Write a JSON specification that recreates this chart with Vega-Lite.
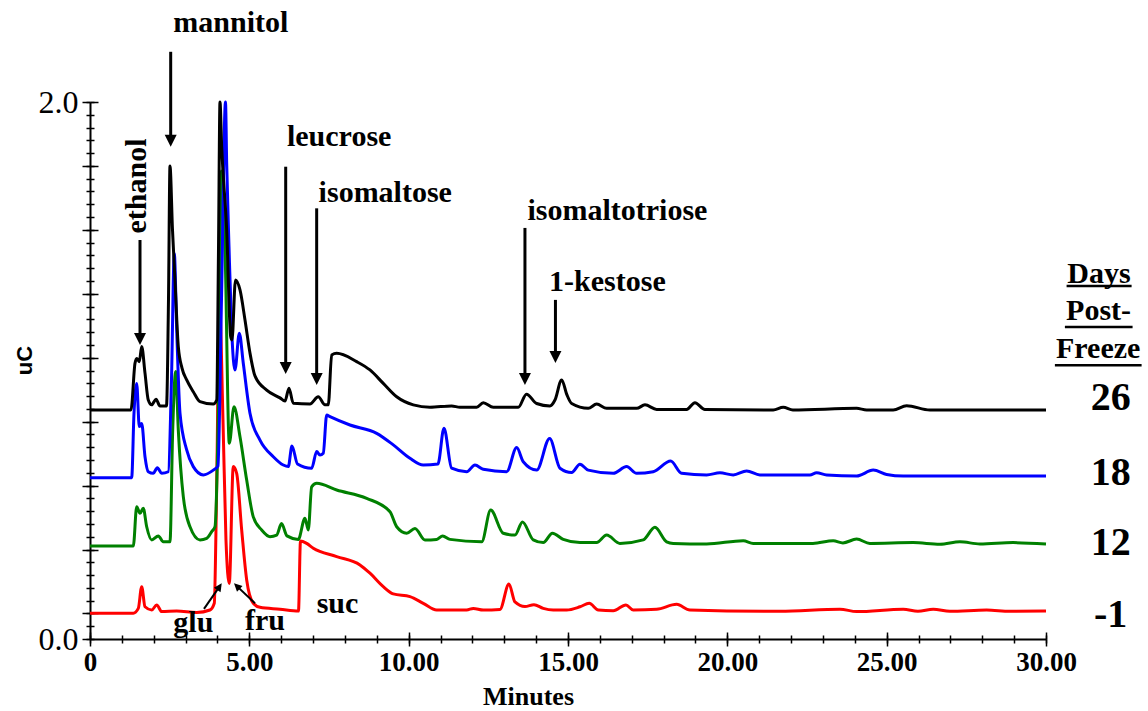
{
  "$schema": "https://vega.github.io/schema/vega-lite/v6.json",
  "width": 956,
  "height": 537,
  "autosize": {"type": "none"},
  "padding": {"left": 90, "top": 102, "right": 102, "bottom": 72},
  "background": "white",
  "config": {
    "view": {"stroke": null},
    "axis": {"grid": false, "domainColor": "#000000", "tickColor": "#000000", "labelColor": "#000000", "titleColor": "#000000", "tickWidth": 1.5, "domainWidth": 2}
  },
  "resolve": {"axis": {"x": "independent", "y": "independent"}},
  "datasets": {
    "chrom": [
      {"day":"26","t":0,"v":0.853},{"day":"26","t":1.286,"v":0.853},{"day":"26","t":1.412,"v":1.027},{"day":"26","t":1.465,"v":1.045},{"day":"26","t":1.547,"v":1.033},{"day":"26","t":1.622,"v":1.089},{"day":"26","t":1.726,"v":0.990},{"day":"26","t":1.829,"v":0.890},{"day":"26","t":1.936,"v":0.872},{"day":"26","t":2.071,"v":0.893},{"day":"26","t":2.196,"v":0.868},{"day":"26","t":2.400,"v":0.868},{"day":"26","t":2.463,"v":1.263},{"day":"26","t":2.510,"v":1.762},{"day":"26","t":2.589,"v":1.523},{"day":"26","t":2.667,"v":1.337},{"day":"26","t":2.771,"v":1.089},{"day":"26","t":2.887,"v":1.009},{"day":"26","t":3.034,"v":0.965},{"day":"26","t":3.241,"v":0.921},{"day":"26","t":3.452,"v":0.884},{"day":"26","t":3.869,"v":0.875},{"day":"26","t":3.976,"v":0.890},{"day":"26","t":4.032,"v":1.449},{"day":"26","t":4.079,"v":2.0},{"day":"26","t":4.132,"v":1.834},{"day":"26","t":4.289,"v":1.523},{"day":"26","t":4.415,"v":1.126},{"day":"26","t":4.456,"v":1.114},{"day":"26","t":4.565,"v":1.337},{"day":"26","t":4.707,"v":1.300},{"day":"26","t":4.864,"v":1.188},{"day":"26","t":5.020,"v":1.065},{"day":"26","t":5.177,"v":0.980},{"day":"26","t":5.544,"v":0.927},{"day":"26","t":5.962,"v":0.898},{"day":"26","t":6.119,"v":0.886},{"day":"26","t":6.244,"v":0.934},{"day":"26","t":6.379,"v":0.878},{"day":"26","t":6.903,"v":0.875},{"day":"26","t":7.163,"v":0.902},{"day":"26","t":7.374,"v":0.872},{"day":"26","t":7.477,"v":0.872},{"day":"26","t":7.584,"v":1.058},{"day":"26","t":7.741,"v":1.064},{"day":"26","t":8.368,"v":1.033},{"day":"26","t":8.786,"v":1.002},{"day":"26","t":9.203,"v":0.952},{"day":"26","t":9.624,"v":0.902},{"day":"26","t":10.144,"v":0.872},{"day":"26","t":10.668,"v":0.863},{"day":"26","t":11.349,"v":0.868},{"day":"26","t":11.610,"v":0.863},{"day":"26","t":12.134,"v":0.863},{"day":"26","t":12.341,"v":0.880},{"day":"26","t":12.655,"v":0.863},{"day":"26","t":13.439,"v":0.863},{"day":"26","t":13.696,"v":0.912},{"day":"26","t":14.016,"v":0.877},{"day":"26","t":14.434,"v":0.868},{"day":"26","t":14.591,"v":0.890},{"day":"26","t":14.801,"v":0.965},{"day":"26","t":14.967,"v":0.909},{"day":"26","t":15.115,"v":0.877},{"day":"26","t":15.635,"v":0.859},{"day":"26","t":15.899,"v":0.875},{"day":"26","t":16.213,"v":0.859},{"day":"26","t":17.154,"v":0.859},{"day":"26","t":17.415,"v":0.872},{"day":"26","t":17.782,"v":0.855},{"day":"26","t":18.723,"v":0.855},{"day":"26","t":18.983,"v":0.880},{"day":"26","t":19.297,"v":0.855},{"day":"26","t":21.440,"v":0.853},{"day":"26","t":21.754,"v":0.863},{"day":"26","t":22.058,"v":0.853},{"day":"26","t":24.057,"v":0.859},{"day":"26","t":24.371,"v":0.853},{"day":"26","t":25.205,"v":0.853},{"day":"26","t":25.626,"v":0.869},{"day":"26","t":26.357,"v":0.853},{"day":"26","t":30,"v":0.853},

      {"day":"18","t":0,"v":0.601},{"day":"18","t":1.308,"v":0.601},{"day":"18","t":1.381,"v":0.841},{"day":"18","t":1.465,"v":0.952},{"day":"18","t":1.547,"v":0.791},{"day":"18","t":1.622,"v":0.803},{"day":"18","t":1.726,"v":0.679},{"day":"18","t":1.829,"v":0.623},{"day":"18","t":1.986,"v":0.617},{"day":"18","t":2.112,"v":0.638},{"day":"18","t":2.250,"v":0.617},{"day":"18","t":2.457,"v":0.623},{"day":"18","t":2.557,"v":0.965},{"day":"18","t":2.645,"v":1.436},{"day":"18","t":2.721,"v":1.151},{"day":"18","t":2.824,"v":0.841},{"day":"18","t":3.034,"v":0.704},{"day":"18","t":3.241,"v":0.642},{"day":"18","t":3.555,"v":0.611},{"day":"18","t":3.869,"v":0.629},{"day":"18","t":4.016,"v":0.644},{"day":"18","t":4.126,"v":1.263},{"day":"18","t":4.252,"v":2.0},{"day":"18","t":4.289,"v":1.773},{"day":"18","t":4.362,"v":1.461},{"day":"18","t":4.446,"v":1.151},{"day":"18","t":4.550,"v":1.002},{"day":"18","t":4.685,"v":1.139},{"day":"18","t":4.810,"v":1.027},{"day":"18","t":5.020,"v":0.841},{"day":"18","t":5.334,"v":0.741},{"day":"18","t":5.752,"v":0.679},{"day":"18","t":6.065,"v":0.648},{"day":"18","t":6.222,"v":0.642},{"day":"18","t":6.338,"v":0.719},{"day":"18","t":6.511,"v":0.652},{"day":"18","t":6.956,"v":0.636},{"day":"18","t":7.113,"v":0.698},{"day":"18","t":7.217,"v":0.685},{"day":"18","t":7.320,"v":0.692},{"day":"18","t":7.427,"v":0.834},{"day":"18","t":7.531,"v":0.828},{"day":"18","t":8.158,"v":0.797},{"day":"18","t":8.996,"v":0.766},{"day":"18","t":9.517,"v":0.723},{"day":"18","t":10.041,"v":0.673},{"day":"18","t":10.458,"v":0.648},{"day":"18","t":10.919,"v":0.652},{"day":"18","t":11.108,"v":0.785},{"day":"18","t":11.349,"v":0.636},{"day":"18","t":11.820,"v":0.623},{"day":"18","t":12.080,"v":0.648},{"day":"18","t":12.341,"v":0.632},{"day":"18","t":13.075,"v":0.623},{"day":"18","t":13.389,"v":0.713},{"day":"18","t":13.596,"v":0.660},{"day":"18","t":14.016,"v":0.629},{"day":"18","t":14.424,"v":0.747},{"day":"18","t":14.748,"v":0.636},{"day":"18","t":15.115,"v":0.620},{"day":"18","t":15.375,"v":0.651},{"day":"18","t":15.635,"v":0.629},{"day":"18","t":16.420,"v":0.617},{"day":"18","t":16.840,"v":0.642},{"day":"18","t":17.154,"v":0.617},{"day":"18","t":17.675,"v":0.623},{"day":"18","t":18.221,"v":0.663},{"day":"18","t":18.566,"v":0.617},{"day":"18","t":19.350,"v":0.611},{"day":"18","t":19.768,"v":0.619},{"day":"18","t":20.185,"v":0.611},{"day":"18","t":20.606,"v":0.626},{"day":"18","t":21.023,"v":0.611},{"day":"18","t":22.592,"v":0.611},{"day":"18","t":22.802,"v":0.619},{"day":"18","t":23.116,"v":0.611},{"day":"18","t":24.057,"v":0.607},{"day":"18","t":24.578,"v":0.629},{"day":"18","t":24.998,"v":0.613},{"day":"18","t":25.519,"v":0.607},{"day":"18","t":30,"v":0.607},

      {"day":"12","t":0,"v":0.346},{"day":"12","t":1.359,"v":0.346},{"day":"12","t":1.465,"v":0.493},{"day":"12","t":1.569,"v":0.468},{"day":"12","t":1.672,"v":0.487},{"day":"12","t":1.779,"v":0.418},{"day":"12","t":1.936,"v":0.369},{"day":"12","t":2.143,"v":0.384},{"day":"12","t":2.300,"v":0.362},{"day":"12","t":2.510,"v":0.362},{"day":"12","t":2.595,"v":0.778},{"day":"12","t":2.689,"v":0.996},{"day":"12","t":2.771,"v":0.778},{"day":"12","t":2.928,"v":0.530},{"day":"12","t":3.138,"v":0.418},{"day":"12","t":3.452,"v":0.369},{"day":"12","t":3.662,"v":0.375},{"day":"12","t":3.819,"v":0.400},{"day":"12","t":3.922,"v":0.418},{"day":"12","t":4.032,"v":0.890},{"day":"12","t":4.126,"v":1.743},{"day":"12","t":4.236,"v":1.460},{"day":"12","t":4.371,"v":0.729},{"day":"12","t":4.519,"v":0.865},{"day":"12","t":4.707,"v":0.753},{"day":"12","t":4.917,"v":0.592},{"day":"12","t":5.124,"v":0.455},{"day":"12","t":5.388,"v":0.406},{"day":"12","t":5.648,"v":0.381},{"day":"12","t":5.858,"v":0.387},{"day":"12","t":6.009,"v":0.430},{"day":"12","t":6.181,"v":0.384},{"day":"12","t":6.536,"v":0.371},{"day":"12","t":6.746,"v":0.450},{"day":"12","t":6.850,"v":0.406},{"day":"12","t":6.956,"v":0.567},{"day":"12","t":7.113,"v":0.580},{"day":"12","t":7.741,"v":0.555},{"day":"12","t":8.682,"v":0.524},{"day":"12","t":9.413,"v":0.474},{"day":"12","t":9.624,"v":0.418},{"day":"12","t":9.937,"v":0.394},{"day":"12","t":10.198,"v":0.412},{"day":"12","t":10.512,"v":0.369},{"day":"12","t":10.879,"v":0.371},{"day":"12","t":11.067,"v":0.384},{"day":"12","t":11.296,"v":0.371},{"day":"12","t":12.291,"v":0.362},{"day":"12","t":12.573,"v":0.480},{"day":"12","t":12.968,"v":0.394},{"day":"12","t":13.336,"v":0.387},{"day":"12","t":13.571,"v":0.436},{"day":"12","t":13.910,"v":0.369},{"day":"12","t":14.223,"v":0.359},{"day":"12","t":14.512,"v":0.394},{"day":"12","t":14.851,"v":0.371},{"day":"12","t":15.375,"v":0.359},{"day":"12","t":15.899,"v":0.359},{"day":"12","t":16.213,"v":0.387},{"day":"12","t":16.630,"v":0.356},{"day":"12","t":17.361,"v":0.369},{"day":"12","t":17.728,"v":0.416},{"day":"12","t":18.095,"v":0.362},{"day":"12","t":18.303,"v":0.356},{"day":"12","t":19.350,"v":0.354},{"day":"12","t":20.499,"v":0.366},{"day":"12","t":20.813,"v":0.356},{"day":"12","t":22.686,"v":0.356},{"day":"12","t":23.323,"v":0.366},{"day":"12","t":23.627,"v":0.358},{"day":"12","t":24.057,"v":0.372},{"day":"12","t":24.474,"v":0.356},{"day":"12","t":25.833,"v":0.359},{"day":"12","t":26.671,"v":0.353},{"day":"12","t":27.299,"v":0.362},{"day":"12","t":27.926,"v":0.354},{"day":"12","t":28.971,"v":0.359},{"day":"12","t":30,"v":0.354},

      {"day":"-1","t":0,"v":0.096},{"day":"-1","t":1.359,"v":0.096},{"day":"-1","t":1.516,"v":0.114},{"day":"-1","t":1.622,"v":0.195},{"day":"-1","t":1.726,"v":0.120},{"day":"-1","t":1.936,"v":0.108},{"day":"-1","t":2.093,"v":0.127},{"day":"-1","t":2.250,"v":0.102},{"day":"-1","t":2.720,"v":0.104},{"day":"-1","t":3.348,"v":0.099},{"day":"-1","t":3.765,"v":0.108},{"day":"-1","t":3.900,"v":0.133},{"day":"-1","t":3.969,"v":0.518},{"day":"-1","t":4.063,"v":1.250},{"day":"-1","t":4.173,"v":0.816},{"day":"-1","t":4.267,"v":0.369},{"day":"-1","t":4.371,"v":0.207},{"day":"-1","t":4.496,"v":0.642},{"day":"-1","t":4.603,"v":0.617},{"day":"-1","t":4.760,"v":0.406},{"day":"-1","t":4.917,"v":0.220},{"day":"-1","t":5.124,"v":0.133},{"day":"-1","t":5.334,"v":0.118},{"day":"-1","t":5.962,"v":0.111},{"day":"-1","t":6.542,"v":0.104},{"day":"-1","t":6.605,"v":0.365},{"day":"-1","t":6.800,"v":0.356},{"day":"-1","t":7.007,"v":0.338},{"day":"-1","t":7.741,"v":0.307},{"day":"-1","t":8.472,"v":0.276},{"day":"-1","t":8.786,"v":0.245},{"day":"-1","t":9.203,"v":0.195},{"day":"-1","t":9.517,"v":0.168},{"day":"-1","t":10.041,"v":0.158},{"day":"-1","t":10.458,"v":0.133},{"day":"-1","t":10.879,"v":0.108},{"day":"-1","t":11.820,"v":0.108},{"day":"-1","t":12.027,"v":0.114},{"day":"-1","t":12.341,"v":0.108},{"day":"-1","t":12.865,"v":0.110},{"day":"-1","t":13.147,"v":0.205},{"day":"-1","t":13.336,"v":0.138},{"day":"-1","t":13.649,"v":0.121},{"day":"-1","t":13.932,"v":0.128},{"day":"-1","t":14.223,"v":0.114},{"day":"-1","t":14.537,"v":0.108},{"day":"-1","t":14.958,"v":0.108},{"day":"-1","t":15.375,"v":0.120},{"day":"-1","t":15.667,"v":0.133},{"day":"-1","t":15.950,"v":0.108},{"day":"-1","t":16.420,"v":0.105},{"day":"-1","t":16.819,"v":0.127},{"day":"-1","t":17.047,"v":0.108},{"day":"-1","t":17.782,"v":0.111},{"day":"-1","t":18.409,"v":0.129},{"day":"-1","t":18.826,"v":0.108},{"day":"-1","t":21.650,"v":0.103},{"day":"-1","t":23.533,"v":0.111},{"day":"-1","t":24.057,"v":0.102},{"day":"-1","t":25.519,"v":0.111},{"day":"-1","t":25.981,"v":0.103},{"day":"-1","t":26.461,"v":0.111},{"day":"-1","t":26.985,"v":0.103},{"day":"-1","t":28.136,"v":0.108},{"day":"-1","t":28.867,"v":0.103},{"day":"-1","t":30,"v":0.104}
    ],
    "peaks": [
      {"label":"mannitol","t":4.418,"v":2.259},
      {"label":"leucrose","t":7.819,"v":1.837},
      {"label":"isomaltose","t":9.266,"v":1.626},
      {"label":"isomaltotriose","t":16.552,"v":1.562},
      {"label":"1-kestose","t":16.238,"v":1.296},
      {"label":"glu","t":3.242,"v":0.027},
      {"label":"fru","t":5.491,"v":0.034},
      {"label":"suc","t":7.766,"v":0.096}
    ],
    "ethanol": [{"label":"ethanol","t":1.773,"v":1.687}],
    "arrows": [
      {"name":"ethanol","t":1.569,"top":1.486,"head":1.117},
      {"name":"mannitol","t":2.532,"top":2.187,"head":1.856},
      {"name":"leucrose","t":6.141,"top":1.759,"head":1.009},
      {"name":"isomaltose","t":7.113,"top":1.604,"head":0.968},
      {"name":"isomaltotriose","t":13.649,"top":1.531,"head":0.968},
      {"name":"1-kestose","t":14.606,"top":1.263,"head":1.050}
    ],
    "glu": [{"t":3.577,"v":0.112,"t2":4.063,"v2":0.195}],
    "fru": [{"t":5.177,"v":0.133,"t2":4.609,"v2":0.197}],
    "header": [
      {"txt":"Days","t":31.66,"v":1.326},
      {"txt":"Post-","t":31.65,"v":1.188},
      {"txt":"Freeze","t":31.638,"v":1.047}
    ],
    "underlines": [
      {"t":30.646,"t2":32.686,"v":1.315},
      {"t":30.593,"t2":32.717,"v":1.162},
      {"t":30.279,"t2":33.0,"v":1.020}
    ],
    "days": [
      {"txt":"26","t":32.03,"v":0.853},
      {"txt":"18","t":32.03,"v":0.574},
      {"txt":"12","t":32.03,"v":0.313},
      {"txt":"-1","t":32.03,"v":0.046}
    ]
  },
  "layer": [
    {
      "data": {"name": "chrom"},
      "transform": [{"filter": "datum.day == '-1'"}],
      "mark": {"type": "line", "color": "#FF0000", "strokeWidth": 3, "interpolate": "monotone", "strokeJoin": "round"},
      "encoding": {
        "x": {"field": "t", "type": "quantitative", "scale": {"domain": [0, 30], "nice": false, "zero": false},
          "axis": {"orient": "bottom", "values": [0,5,10,15,20,25,30], "tickSize": 7, "labelExpr": "datum.value === 0 ? '0' : format(datum.value, '.2f')", "labelFont": "Liberation Sans Narrow", "labelFontWeight": "bold", "labelFontSize": 27, "labelPadding": 3, "labelFlush": false, "labelOverlap": false, "title": "Minutes", "titleFont": "Liberation Sans Narrow", "titleFontWeight": "bold", "titleFontSize": 26, "titleX": 438, "titleY": 65, "titleBaseline": "alphabetic", "titleAlign": "center"}},
        "y": {"field": "v", "type": "quantitative", "scale": {"domain": [0, 2], "nice": false, "zero": false},
          "axis": {"orient": "left", "values": [0,0.0952,0.3333,0.5714,0.8095,1.0476,1.2857,1.5238,1.7619,2.0], "tickSize": 8, "labelExpr": "datum.value == 2 ? '2.0' : (datum.value == 0 ? '0.0' : '')", "labelFont": "Liberation Serif", "labelFontSize": 32, "labelFontWeight": "normal", "labelPadding": 4, "labelOverlap": false, "title": "uC", "titleFont": "Liberation Sans", "titleFontWeight": "bold", "titleFontSize": 22, "titleAngle": 270, "titleX": -66, "titleY": 258, "titleAlign": "center", "titleBaseline": "middle"}}
      }
    },
    {
      "data": {"name": "chrom"},
      "transform": [{"filter": "datum.day == '12'"}],
      "mark": {"type": "line", "color": "#008000", "strokeWidth": 3, "interpolate": "monotone", "strokeJoin": "round"},
      "encoding": {
        "x": {"field": "t", "type": "quantitative", "scale": {"domain": [0, 30], "nice": false, "zero": false},
          "axis": {"orient": "bottom", "values": [0,1,2,3,4,5,6,7,8,9,10,11,12,13,14,15,16,17,18,19,20,21,22,23,24,25,26,27,28,29,30], "tickSize": 4, "labels": false, "domain": false, "title": null}},
        "y": {"field": "v", "type": "quantitative", "scale": {"domain": [0, 2], "nice": false, "zero": false},
          "axis": {"orient": "left", "values": [0,0.0476,0.0952,0.1429,0.1905,0.2381,0.2857,0.3333,0.381,0.4286,0.4762,0.5238,0.5714,0.619,0.6667,0.7143,0.7619,0.8095,0.8571,0.9048,0.9524,1.0,1.0476,1.0952,1.1429,1.1905,1.2381,1.2857,1.3333,1.381,1.4286,1.4762,1.5238,1.5714,1.619,1.6667,1.7143,1.7619,1.8095,1.8571,1.9048,1.9524,2.0], "tickSize": 4, "labels": false, "domain": false, "title": null}}
      }
    },
    {
      "data": {"name": "chrom"},
      "transform": [{"filter": "datum.day == '18'"}],
      "mark": {"type": "line", "color": "#0000FF", "strokeWidth": 3, "interpolate": "monotone", "strokeJoin": "round"},
      "encoding": {
        "x": {"field": "t", "type": "quantitative", "scale": {"domain": [0, 30], "nice": false, "zero": false},
          "axis": {"orient": "bottom", "values": [0,1,2,3,4,5,6,7,8,9,10,11,12,13,14,15,16,17,18,19,20,21,22,23,24,25,26,27,28,29,30], "tickSize": -4, "labels": false, "domain": false, "title": null}},
        "y": {"field": "v", "type": "quantitative", "scale": {"domain": [0, 2], "nice": false, "zero": false},
          "axis": {"orient": "left", "values": [0,0.0476,0.0952,0.1429,0.1905,0.2381,0.2857,0.3333,0.381,0.4286,0.4762,0.5238,0.5714,0.619,0.6667,0.7143,0.7619,0.8095,0.8571,0.9048,0.9524,1.0,1.0476,1.0952,1.1429,1.1905,1.2381,1.2857,1.3333,1.381,1.4286,1.4762,1.5238,1.5714,1.619,1.6667,1.7143,1.7619,1.8095,1.8571,1.9048,1.9524,2.0], "tickSize": -4, "labels": false, "domain": false, "title": null}}
      }
    },
    {
      "data": {"name": "chrom"},
      "transform": [{"filter": "datum.day == '26'"}],
      "mark": {"type": "line", "color": "#000000", "strokeWidth": 3, "interpolate": "monotone", "strokeJoin": "round"},
      "encoding": {
        "x": {"field": "t", "type": "quantitative", "scale": {"domain": [0, 30], "nice": false, "zero": false},
          "axis": {"orient": "bottom", "values": [0,5,10,15,20,25,30], "tickSize": -7, "labels": false, "domain": false, "title": null}},
        "y": {"field": "v", "type": "quantitative", "scale": {"domain": [0, 2], "nice": false, "zero": false},
          "axis": {"orient": "left", "values": [0.0952,0.3333,0.5714,0.8095,1.0476,1.2857,1.5238,1.7619,2.0], "tickSize": -8, "labels": false, "domain": false, "title": null}}
      }
    },
    {
      "data": {"name": "arrows"},
      "mark": {"type": "rule", "color": "#000000", "strokeWidth": 3},
      "encoding": {
        "x": {"field": "t", "type": "quantitative", "scale": {"domain": [0, 30]}, "axis": null},
        "y": {"field": "top", "type": "quantitative", "scale": {"domain": [0, 2]}, "axis": null},
        "y2": {"field": "head"}
      }
    },
    {
      "data": {"name": "arrows"},
      "mark": {"type": "point", "shape": "M-1,-1L1,-1L0,1Z", "filled": true, "color": "#000000", "opacity": 1, "size": 144, "strokeWidth": 0},
      "encoding": {
        "x": {"field": "t", "type": "quantitative", "scale": {"domain": [0, 30]}, "axis": null},
        "y": {"field": "head", "type": "quantitative", "scale": {"domain": [0, 2]}, "axis": null}
      }
    },
    {
      "data": {"name": "glu"},
      "mark": {"type": "rule", "color": "#000000", "strokeWidth": 2},
      "encoding": {
        "x": {"field": "t", "type": "quantitative", "scale": {"domain": [0, 30]}, "axis": null},
        "y": {"field": "v", "type": "quantitative", "scale": {"domain": [0, 2]}, "axis": null},
        "x2": {"field": "t2"}, "y2": {"field": "v2"}
      }
    },
    {
      "data": {"name": "glu"},
      "mark": {"type": "point", "shape": "M-1,-1L1,-1L0,1Z", "filled": true, "color": "#000000", "opacity": 1, "size": 64, "strokeWidth": 0, "angle": 213.8},
      "encoding": {
        "x": {"field": "t2", "type": "quantitative", "scale": {"domain": [0, 30]}, "axis": null},
        "y": {"field": "v2", "type": "quantitative", "scale": {"domain": [0, 2]}, "axis": null}
      }
    },
    {
      "data": {"name": "fru"},
      "mark": {"type": "rule", "color": "#000000", "strokeWidth": 2},
      "encoding": {
        "x": {"field": "t", "type": "quantitative", "scale": {"domain": [0, 30]}, "axis": null},
        "y": {"field": "v", "type": "quantitative", "scale": {"domain": [0, 2]}, "axis": null},
        "x2": {"field": "t2"}, "y2": {"field": "v2"}
      }
    },
    {
      "data": {"name": "fru"},
      "mark": {"type": "point", "shape": "M-1,-1L1,-1L0,1Z", "filled": true, "color": "#000000", "opacity": 1, "size": 64, "strokeWidth": 0, "angle": 133.6},
      "encoding": {
        "x": {"field": "t2", "type": "quantitative", "scale": {"domain": [0, 30]}, "axis": null},
        "y": {"field": "v2", "type": "quantitative", "scale": {"domain": [0, 2]}, "axis": null}
      }
    },
    {
      "data": {"name": "peaks"},
      "mark": {"type": "text", "font": "Liberation Serif", "fontWeight": "bold", "fontSize": 30, "align": "center", "baseline": "alphabetic", "color": "#000000"},
      "encoding": {
        "x": {"field": "t", "type": "quantitative", "scale": {"domain": [0, 30]}, "axis": null},
        "y": {"field": "v", "type": "quantitative", "scale": {"domain": [0, 2]}, "axis": null},
        "text": {"field": "label"}
      }
    },
    {
      "data": {"name": "ethanol"},
      "mark": {"type": "text", "font": "Liberation Serif", "fontWeight": "bold", "fontSize": 30, "align": "center", "baseline": "alphabetic", "angle": 270, "color": "#000000"},
      "encoding": {
        "x": {"field": "t", "type": "quantitative", "scale": {"domain": [0, 30]}, "axis": null},
        "y": {"field": "v", "type": "quantitative", "scale": {"domain": [0, 2]}, "axis": null},
        "text": {"field": "label"}
      }
    },
    {
      "data": {"name": "header"},
      "mark": {"type": "text", "font": "Liberation Serif", "fontWeight": "bold", "fontSize": 30, "align": "center", "baseline": "alphabetic", "color": "#000000"},
      "encoding": {
        "x": {"field": "t", "type": "quantitative", "scale": {"domain": [0, 30]}, "axis": null},
        "y": {"field": "v", "type": "quantitative", "scale": {"domain": [0, 2]}, "axis": null},
        "text": {"field": "txt"}
      }
    },
    {
      "data": {"name": "underlines"},
      "mark": {"type": "rule", "color": "#000000", "strokeWidth": 2.5},
      "encoding": {
        "x": {"field": "t", "type": "quantitative", "scale": {"domain": [0, 30]}, "axis": null},
        "x2": {"field": "t2"},
        "y": {"field": "v", "type": "quantitative", "scale": {"domain": [0, 2]}, "axis": null}
      }
    },
    {
      "data": {"name": "days"},
      "mark": {"type": "text", "font": "Liberation Serif", "fontWeight": "bold", "fontSize": 40, "align": "center", "baseline": "alphabetic", "color": "#000000"},
      "encoding": {
        "x": {"field": "t", "type": "quantitative", "scale": {"domain": [0, 30]}, "axis": null},
        "y": {"field": "v", "type": "quantitative", "scale": {"domain": [0, 2]}, "axis": null},
        "text": {"field": "txt"}
      }
    }
  ]
}
